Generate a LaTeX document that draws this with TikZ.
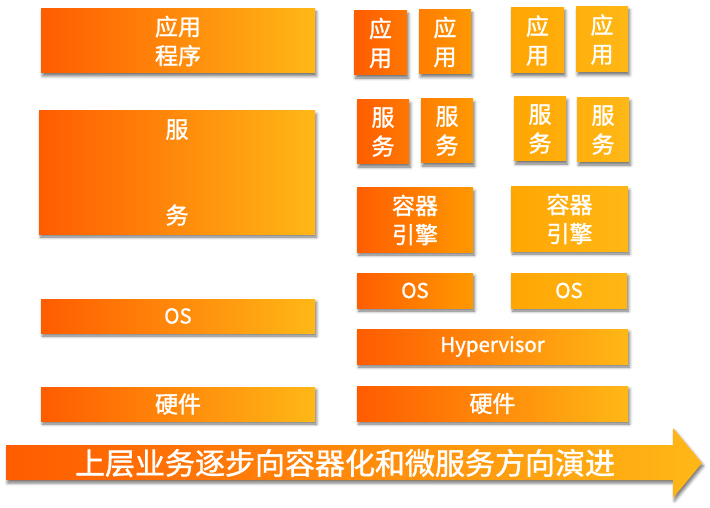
\documentclass[tikz,border=0pt]{standalone}
\usepackage{fontspec}
\setmainfont[FakeBold=1.3,AutoFakeBold=1.3]{Noto Sans CJK SC}
\usetikzlibrary{shadows.blur}
\definecolor{cA}{HTML}{FF5C00}
\definecolor{cB}{HTML}{FFA300}
\definecolor{cC}{HTML}{FFB816}
\tikzset{
  sh/.style={blur shadow={shadow xshift=1.5pt, shadow yshift=-3pt, shadow blur radius=3pt, shadow opacity=55}},
  box/.style={rectangle, inner sep=0pt, outer sep=0pt, text=white, align=center, sh,
     font=\bfseries\fontsize{23}{29}\selectfont},
  latin/.style={font=\bfseries\fontsize{20.5}{23}\selectfont},
  full/.style={left color=cA, middle color=cB, right color=cC},
  seg/.style 2 args={left color=#1, right color=#2},
}
\begin{document}
\begin{tikzpicture}[x=1pt,y=-1pt]
\useasboundingbox (0,0) rectangle (710,508);
% left column
\node[box, full, minimum width=274, minimum height=64] (l1) at (178,41) {应用\\程序};
\node[box, full, minimum width=276, minimum height=123] (l2) at (177,172.5) {服\\[57pt]务};
\node[box, full, latin, minimum width=274, minimum height=34] (l3) at (178,316) {OS};
\node[box, full, minimum width=274, minimum height=34] (l4) at (178,404) {硬件};
% right column, apps
\node[box, seg={cA}{cB!38!cA}, minimum width=53, minimum height=64] (a1) at (380.5,43) {应\\用};
\node[box, seg={cB!46!cA}{cB!84!cA}, minimum width=52, minimum height=64] (a2) at (445,42) {应\\用};
\node[box, seg={cC!13!cB}{cC!52!cB}, minimum width=53, minimum height=65] (a3) at (537.5,40.5) {应\\用};
\node[box, seg={cC!61!cB}{cC!98!cB}, minimum width=52, minimum height=65] (a4) at (602,39.5) {应\\用};
% services
\node[box, seg={cB!2!cA}{cB!39!cA}, minimum width=52, minimum height=64] (s1) at (383,132) {服\\务};
\node[box, seg={cB!48!cA}{cB!86!cA}, minimum width=52, minimum height=64] (s2) at (447,131) {服\\务};
\node[box, seg={cC!16!cB}{cC!53!cB}, minimum width=52, minimum height=64] (s3) at (540,129) {服\\务};
\node[box, seg={cC!61!cB}{cC}, minimum width=52, minimum height=64] (s4) at (603,130) {服\\务};
% container engines
\node[box, seg={cB!2!cA}{cB!86!cA}, minimum width=116, minimum height=64] (c1) at (415,220) {容器\\引擎};
\node[box, seg={cC!13!cB}{cC!98!cB}, minimum width=117, minimum height=64] (c2) at (569.5,219) {容器\\引擎};
% OS
\node[box, latin, seg={cB!2!cA}{cB!86!cA}, minimum width=116, minimum height=35] (o1) at (415,290.5) {OS};
\node[box, latin, seg={cC!13!cB}{cC!98!cB}, minimum width=116, minimum height=35] (o2) at (569,290.5) {OS};
% hypervisor, hardware
\node[box, latin, full, minimum width=271, minimum height=35] (hv) at (492.5,346.5) {Hypervisor};
\node[box, full, minimum width=271, minimum height=35] (hw) at (492.5,403.5) {硬件};
% arrow
\path[full, sh] (6,445) -- (673,445) -- (673,428) -- (702,463) -- (673,498) -- (673,480) -- (6,480) -- cycle;
\node[text=white, inner sep=0pt, font=\bfseries\fontsize{30}{34}\selectfont] (arrowtxt) at (345,463) {上层业务逐步向容器化和微服务方向演进};
\end{tikzpicture}
\end{document}
